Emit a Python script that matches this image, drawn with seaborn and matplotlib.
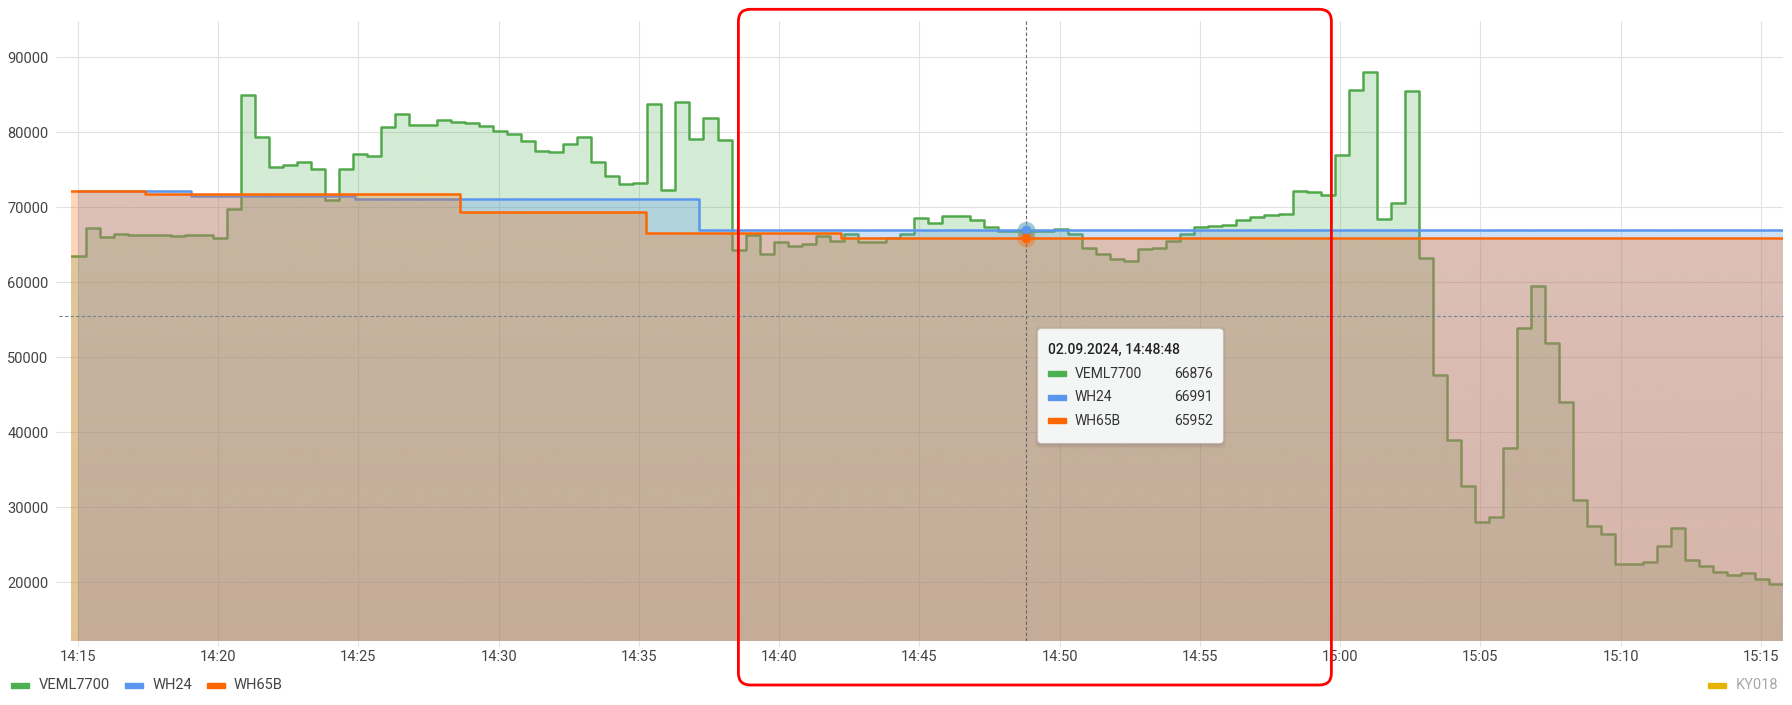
import numpy as np
import pandas as pd
import seaborn as sns
import matplotlib.pyplot as plt
import matplotlib.dates as mdates
from matplotlib.colors import to_rgb
from matplotlib.patches import Rectangle, FancyBboxPatch
from matplotlib.transforms import IdentityTransform

day = "2024-09-02 "

# VEML7700 (lux), step changes
veml_times = [
    "14:14:46", "14:15:18", "14:15:48", "14:16:18", "14:16:48", "14:18:18", "14:18:48", "14:19:48", "14:20:18", "14:20:48",
    "14:21:18", "14:21:48", "14:22:18", "14:22:48", "14:23:18", "14:23:48", "14:24:18", "14:24:48", "14:25:18", "14:25:48",
    "14:26:18", "14:26:48", "14:27:48", "14:28:18", "14:28:48", "14:29:18", "14:29:48", "14:30:18", "14:30:48", "14:31:18",
    "14:31:48", "14:32:18", "14:32:48", "14:33:18", "14:33:48", "14:34:18", "14:34:48", "14:35:18", "14:35:48", "14:36:18",
    "14:36:48", "14:37:18", "14:37:48", "14:38:18", "14:38:48", "14:39:18", "14:39:48", "14:40:18", "14:40:48", "14:41:18",
    "14:41:48", "14:42:18", "14:42:48", "14:43:48", "14:44:18", "14:44:48", "14:45:18", "14:45:48", "14:46:48", "14:47:18",
    "14:47:48", "14:49:48", "14:50:18", "14:50:48", "14:51:18", "14:51:48", "14:52:18", "14:52:48", "14:53:18", "14:53:48",
    "14:54:18", "14:54:48", "14:55:18", "14:55:48", "14:56:18", "14:56:48", "14:57:18", "14:57:48", "14:58:18", "14:58:48",
    "14:59:18", "14:59:48", "15:00:18", "15:00:48", "15:01:18", "15:01:48", "15:02:18", "15:02:48", "15:03:18", "15:03:48",
    "15:04:18", "15:04:48", "15:05:18", "15:05:48", "15:06:18", "15:06:48", "15:07:18", "15:07:48", "15:08:18", "15:08:48",
    "15:09:18", "15:09:48", "15:10:48", "15:11:18", "15:11:48", "15:12:18", "15:12:48", "15:13:18", "15:13:48", "15:14:18",
    "15:14:48", "15:15:18", "15:15:46",
]
veml_values = [
    63500, 67200, 66000, 66400, 66270, 66180, 66300, 65870, 69730, 84980,
    79330, 75330, 75600, 76040, 75110, 70980, 75110, 77070, 76800, 80670,
    82440, 80930, 81600, 81380, 81240, 80800, 80130, 79780, 78840, 77510,
    77330, 78440, 79330, 76040, 74180, 73110, 73240, 83780, 72360, 84000,
    79110, 81870, 78930, 64270, 66310, 63820, 65330, 64840, 65160, 66180,
    65560, 66490, 65380, 65910, 66400, 68580, 67910, 68840, 68310, 67380,
    66876, 67150, 66490, 64580, 63820, 63110, 62840, 64440, 64580, 65560,
    66490, 67420, 67560, 67690, 68310, 68760, 69020, 69160, 72180, 72040,
    71640, 76980, 85690, 88040, 68400, 70580, 85510, 63240, 47690, 38980,
    32870, 28090, 28710, 37930, 53870, 59510, 51910, 44090, 30980, 27510,
    26440, 22440, 22670, 24840, 27240, 22980, 22180, 21380, 21020, 21240,
    20440, 19780, 19780,
]

wh24_times = ["14:15:00", "14:19:01", "14:24:53", "14:37:09", "15:15:46"]
wh24_values = [72150, 71480, 71070, 66991, 66991]

wh65b_times = ["14:14:46", "14:17:23", "14:28:37", "14:35:16", "14:42:13", "15:15:46"]
wh65b_values = [72150, 71750, 69350, 66550, 65952, 65952]

series_names = ["VEML7700", "WH24", "WH65B"]
series_colors = ["#4caf50", "#5a96f0", "#ff6600"]
line_colors = ["#52a84b", "#5a96f0", "#ff6600"]
# fill opacity (bottom, top) per series
series_alpha = [(0.22, 0.25), (0.36, 0.25), (0.32, 0.25)]
hidden_name = "KY018"
hidden_color = "#e6b400"

y_ticks = [20000, 30000, 40000, 50000, 60000, 70000, 80000, 90000]
x_start, x_end = "14:14:46", "15:15:46"
y_min, y_max = 12170, 94880
cursor_time = "14:48:48"
cursor_value = 55500

W, H = 1792, 705


def fx(x):
    return x / W


def fy(y):
    return 1 - y / H


frames = []
for name, times, values in [("VEML7700", veml_times, veml_values),
                            ("WH24", wh24_times, wh24_values),
                            ("WH65B", wh65b_times, wh65b_values)]:
    frames.append(pd.DataFrame({"time": pd.to_datetime([day + t for t in times]),
                                "value": values, "sensor": name}))
df = pd.concat(frames, ignore_index=True)

sns.set_theme(style="white")
plt.rcParams["font.family"] = ["Roboto", "DejaVu Sans"]

fig = plt.figure(figsize=(W / 100, H / 100), dpi=100)
ax = fig.add_axes([fx(71.4), fy(641), fx(1782.5) - fx(71.4), fy(20.7) - fy(641)])

t0 = mdates.date2num(pd.Timestamp(day + x_start))
t1 = mdates.date2num(pd.Timestamp(day + x_end))

z = 2
for name, color, lcolor, (a_bot, a_top) in zip(series_names, series_colors, line_colors, series_alpha):
    d = df[df["sensor"] == name]
    sns.lineplot(data=d, x="time", y="value", color=lcolor, linewidth=1.8,
                 drawstyle="steps-post", estimator=None, sort=False,
                 legend=False, ax=ax, zorder=z)
    xs = mdates.date2num(d["time"])
    poly = ax.fill_between(xs, d["value"].to_numpy(), y_min, step="post",
                           facecolor="none", edgecolor="none")
    path = poly.get_paths()[0]
    img = np.zeros((256, 1, 4))
    img[..., :3] = to_rgb(color)
    img[..., 3] = np.linspace(a_bot, a_top, 256)[:, None]
    im = ax.imshow(img, extent=[t0, t1, y_min, y_max], origin="lower",
                   aspect="auto", interpolation="bilinear", zorder=z + 0.5)
    im.set_clip_path(path, transform=ax.transData)
    z += 1

# hover cursor
tc = pd.Timestamp(day + cursor_time)
ax.axvline(tc, color="#666666", lw=0.8, ls=(0, (3, 2)), zorder=10)
ax.axhline(cursor_value, xmin=-0.007, color="#6f8495", lw=0.8, ls=(0, (3, 2)),
           zorder=10, clip_on=False)

hover_vals = []
for name, color in zip(series_names, series_colors):
    d = df[df["sensor"] == name]
    v = d[d["time"] <= tc]["value"].iloc[-1]
    hover_vals.append(v)
    ax.plot([tc], [v], "o", color=color, ms=13, alpha=0.35, mew=0, zorder=11)
    ax.plot([tc], [v], "o", color=color, ms=7, mew=0, zorder=12)

ax.set_xlim(t0, t1)
ax.set_ylim(y_min, y_max)
ax.set_yticks(y_ticks)
ax.xaxis.set_major_locator(mdates.MinuteLocator(byminute=range(0, 60, 5)))
ax.xaxis.set_major_formatter(mdates.DateFormatter("%H:%M"))
ax.set_xlabel("")
ax.set_ylabel("")
ax.grid(True, color="#e2e2e2", lw=0.8)
ax.set_axisbelow(True)
for s in ax.spines.values():
    s.set_visible(False)
ax.tick_params(axis="y", length=11, width=0.8, color="#e2e2e2", pad=5.5,
               labelsize=10.5, labelcolor="#444444", left=True)
ax.tick_params(axis="x", length=3.6, width=0.8, color="#e2e2e2", pad=3,
               labelsize=10.5, labelcolor="#444444", bottom=True)

# legend (bottom)
leg_items = [(11, 39, series_names[0], series_colors[0], "#444444"),
             (125, 153, series_names[1], series_colors[1], "#444444"),
             (207, 234, series_names[2], series_colors[2], "#444444"),
             (1708, 1736, hidden_name, hidden_color, "#a8a8a8")]
for rx, tx, label, color, tcol in leg_items:
    fig.add_artist(Rectangle((fx(rx), fy(687.5)), fx(18), 5 / H, color=color,
                             transform=fig.transFigure))
    fig.text(fx(tx), fy(685), label, fontsize=10.5, color=tcol, va="center")

# tooltip
for i, a in enumerate([0.05, 0.04, 0.03]):
    g = 1 + i * 1.5
    fig.add_artist(FancyBboxPatch((1038 - g + 1, H - 443 - g - 1.5), 185 + 2 * g - 2, 114 + 2 * g,
                                  boxstyle="round,pad=0,rounding_size=4",
                                  facecolor="black", edgecolor="none", alpha=a,
                                  transform=IdentityTransform(), zorder=20))
fig.add_artist(FancyBboxPatch((1038, H - 443), 185, 114,
                              boxstyle="round,pad=0,rounding_size=3",
                              facecolor="#f4f6f6", edgecolor="#e6e8e8", lw=0.6,
                              transform=IdentityTransform(), zorder=21))
fig.text(fx(1048), fy(350), "02.09.2024, " + cursor_time, fontsize=10,
         fontweight="medium", color="#222222", va="center", zorder=22)
for row_y, name, color, v in zip([373.7, 397, 420.7], series_names, series_colors, hover_vals):
    fig.add_artist(Rectangle((fx(1048), fy(row_y + 2.5)), fx(18), 5 / H, color=color,
                             transform=fig.transFigure, zorder=22))
    fig.text(fx(1075), fy(row_y), name, fontsize=10, color="#333333", va="center", zorder=22)
    fig.text(fx(1212.5), fy(row_y), str(v), fontsize=10, color="#333333",
             va="center", ha="right", zorder=22)

# red highlight frame
fig.add_artist(FancyBboxPatch((738.4, H - 685), 593, 675.7,
                              boxstyle="round,pad=0,rounding_size=12",
                              facecolor="none", edgecolor="#ff0000", lw=2.0,
                              transform=IdentityTransform(), zorder=30))

fig.savefig("out.png", dpi=100)
